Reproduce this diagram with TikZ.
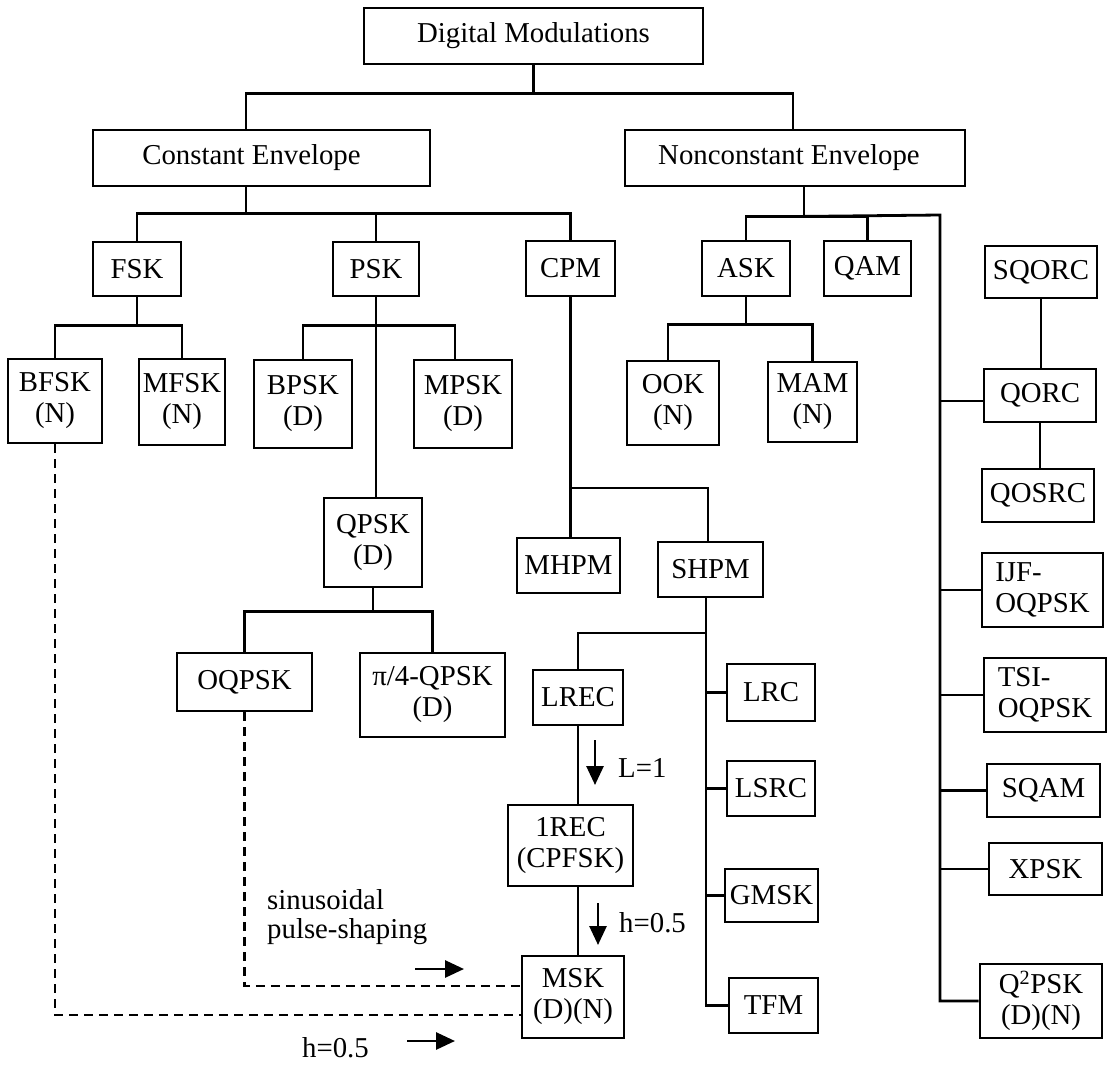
\documentclass[tikz,border=0pt]{standalone}
\usepackage{fontspec}
\setmainfont{Liberation Serif}
\usetikzlibrary{arrows.meta}
\begin{document}
\begin{tikzpicture}[x=1pt,y=-1pt,
  box/.style={draw, line width=2.8pt, inner sep=0pt, align=center,
              font=\fontsize{28.8}{31}\selectfont},
  bx/.style 2 args={box, minimum width=#1pt, minimum height=#2pt},
  wire/.style={line width=2.8pt},
  link/.style={line width=2.5pt, dash pattern=on 9pt off 6pt},
  hint/.style={line width=2.8pt, -{Triangle[length=19pt,width=17pt]}},
  note/.style={inner sep=0pt, align=left, font=\fontsize{28.8}{29}\selectfont}]
\fill[white] (0,0) rectangle (1114,1068);
\useasboundingbox (0,0) rectangle (1114,1068);

% top levels
\node[bx={339}{56}] (dm) at (533.5,36) {Digital Modulations};
\node[bx={337}{56}] (ce) at (261.5,158) {\hspace*{-20pt}Constant Envelope};
\node[bx={340}{56}] (ne) at (795,158) {\hspace*{-12pt}Nonconstant Envelope};

% second level
\node[bx={88}{54}] (fsk) at (137,269) {FSK};
\node[bx={86}{54}] (psk) at (376,269) {PSK};
\node[bx={89}{55}] (cpm) at (570.5,268.5) {CPM};
\node[bx={88}{55}] (ask) at (746,268.5) {ASK};
\node[bx={87}{55}] (qam) at (867.5,268.5) {QAM};
\node[bx={112}{52}] (sqorc) at (1041,272) {SQORC};

% third level
\node[bx={94}{84}] (bfsk) at (55,401) {BFSK\\(N)};
\node[bx={86}{86}] (mfsk) at (182,402) {MFSK\\(N)};
\node[bx={98}{88}] (bpsk) at (303,404) {BPSK\\(D)};
\node[bx={98}{88}] (mpsk) at (463,404) {MPSK\\(D)};
\node[bx={92}{84}] (ook) at (673,403) {OOK\\(N)};
\node[bx={89}{80}] (mam) at (812.5,402) {MAM\\(N)};
\node[bx={112}{53}] (qorc) at (1040,395.5) {QORC};
\node[bx={112}{53}] (qosrc) at (1038,495.5) {QOSRC};

% lower part
\node[bx={98}{89}] (qpsk) at (373,542.5) {QPSK\\(D)};
\node[bx={103}{55}] (mhpm) at (568.5,565.5) {MHPM};
\node[bx={105}{55}] (shpm) at (710.5,569.5) {SHPM};
\node[bx={121}{74}, align=left] (ijf) at (1042.5,590) {IJF-\\OQPSK};
\node[bx={135}{58}] (oqpsk) at (244.5,682) {OQPSK};
\node[bx={145}{84}] (pqpsk) at (432.5,695) {π/4-QPSK\\(D)};
\node[bx={122}{74}, align=left] (tsi) at (1045,695) {TSI-\\OQPSK};
\node[bx={90}{55}] (lrec) at (578,697.5) {LREC};
\node[bx={88}{57}] (lrc) at (771,692.5) {LRC};
\node[bx={88}{55}] (lsrc) at (771,788.5) {LSRC};
\node[bx={113}{53}] (sqam) at (1043.5,790.5) {SQAM};
\node[bx={125}{81}] (rec) at (570.5,845.5) {1REC\\(CPFSK)};
\node[bx={113}{52}] (xpsk) at (1045.5,869) {XPSK};
\node[bx={93}{53}] (gmsk) at (771.5,895.5) {GMSK};
\node[bx={102}{82}] (msk) at (573,997) {MSK\\(D)(N)};
\node[bx={122}{74}] (qqpsk) at (1041,1001) {Q\textsuperscript{2}PSK\\(D)(N)};
\node[bx={89}{55}] (tfm) at (773.5,1005.5) {TFM};

% root split
\draw[wire] (dm.south) -- ++(0,28) -| ([xshift=-15.5pt]ce.north);
\draw[wire] (dm.south) ++(0,28) -| ([xshift=-2pt]ne.north);

% constant envelope family
\draw[wire] ([xshift=-15.5pt]ce.south) -- ++(0,26) -| (fsk.north);
\draw[wire] ([xshift=-15.5pt]ce.south) ++(0,26) -| (psk.north);
\draw[wire] ([xshift=-15.5pt]ce.south) ++(0,26) -| (cpm.north);

\draw[wire] (fsk.south) -- ++(0,28) -| (bfsk.north);
\draw[wire] (fsk.south) ++(0,28) -| (mfsk.north);

\draw[wire] (psk.south) -- ++(0,28) -| (bpsk.north);
\draw[wire] (psk.south) ++(0,28) -| ([xshift=-8pt]mpsk.north);
\draw[wire] (psk.south) -- (psk.south |- qpsk.north);

\draw[wire] (qpsk.south) -- ++(0,23) -| (oqpsk.north);
\draw[wire] (qpsk.south) ++(0,23) -| (pqpsk.north);

\draw[wire] (cpm.south) -- (cpm.south |- mhpm.north);
\draw[wire] (cpm.south |- 0,488) -| ([xshift=-2.5pt]shpm.north);

\coordinate (sh) at ([xshift=-4.5pt]shpm.south);
\draw[wire] (sh) |- (tfm.west);
\draw[wire] (sh |- 0,633) -| (lrec.north);
\draw[wire] (sh |- lrc.west) -- (lrc.west);
\draw[wire] (sh |- lsrc.west) -- (lsrc.west);
\draw[wire] (sh |- gmsk.west) -- (gmsk.west);

\draw[wire] (lrec.south) -- (lrec.south |- rec.north);
\draw[wire] (lrec.south |- rec.south) -- (lrec.south |- msk.north);

% nonconstant envelope family
\draw[wire] ([xshift=9pt]ne.south) -- ++(0,29) -| (ask.north);
\draw[wire] ([xshift=9pt]ne.south) ++(0,29) -| (qam.north);
\coordinate (spine) at (940,215);
\draw[wire] ([xshift=9pt]ne.south) ++(0,29) -- (spine) |- (qqpsk.west);
\draw[wire] (spine |- 0,401) -- (qorc.west |- 0,401);
\draw[wire] (spine |- ijf.west) -- (ijf.west);
\draw[wire] (spine |- tsi.west) -- (tsi.west);
\draw[wire] (spine |- sqam.west) -- (sqam.west);
\draw[wire] (spine |- xpsk.west) -- (xpsk.west);

\draw[wire] (sqorc.south) -- (sqorc.south |- qorc.north);
\draw[wire] (qorc.south) -- (qorc.south |- qosrc.north);

\draw[wire] (ask.south) -- ++(0,27) -| ([xshift=-5pt]ook.north);
\draw[wire] (ask.south) ++(0,27) -| (mam.north);

% CPFSK special cases
\coordinate (ls) at (595,740);
\coordinate (le) at (595,785);
\draw[hint] (ls) -- (le);
\node[note, anchor=west] (lone) at (618,768) {L=1};
\coordinate (hs) at (598,903);
\coordinate (he) at (598,945);
\draw[hint] (hs) -- (he);
\node[note, anchor=west] (hhalf) at (619,923) {h=0.5};

% equivalences with MSK
\draw[link] (oqpsk.south) |- ([yshift=11pt]msk.west);
\draw[link] (bfsk.south) |- ([yshift=-18pt]msk.west);
\node[note, anchor=west] (sps) at (267,917) {sinusoidal\\pulse-shaping};
\coordinate (ps) at (415,969);
\coordinate (pe) at (464,969);
\draw[hint] (ps) -- (pe);
\coordinate (bs) at (407,1041);
\coordinate (be) at (455,1041);
\draw[hint] (bs) -- (be);
\node[note] (bhalf) at (335.5,1048) {h=0.5};
\end{tikzpicture}
\end{document}
